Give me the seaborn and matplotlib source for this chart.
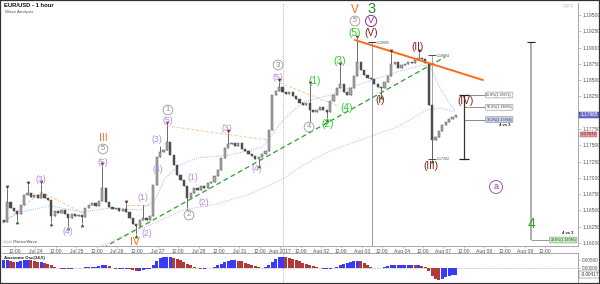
import numpy as np
import pandas as pd
import matplotlib
matplotlib.use("Agg")
import matplotlib.pyplot as plt
import matplotlib.transforms as mtransforms
from matplotlib.ticker import MultipleLocator
from matplotlib.patches import Rectangle
import seaborn as sns

# ---------------- data ----------------
first_open = 1.16353
closes = [
    1.16322, 1.16629, 1.16537, 1.16491, 1.16445, 1.16583, 1.16737, 1.16768, 1.16706, 1.16737,
    1.16691, 1.16752, 1.16691, 1.16660, 1.16414, 1.16491, 1.16461, 1.16507, 1.16445, 1.16384,
    1.16445, 1.16414, 1.16430, 1.16399, 1.16537, 1.16583, 1.16614, 1.16568, 1.16645, 1.16844,
    1.16629, 1.16553, 1.16522, 1.16537, 1.16491, 1.16522, 1.16476, 1.16384, 1.16292, 1.16261,
    1.16353, 1.16384, 1.16353, 1.16414, 1.16891, 1.17320, 1.17397, 1.17428, 1.17550, 1.17351,
    1.17197, 1.17044, 1.16967, 1.16875, 1.16691, 1.16768, 1.16844, 1.16814, 1.16875, 1.16844,
    1.16921, 1.16936, 1.17028, 1.17121, 1.17305, 1.17458, 1.17520, 1.17535, 1.17489, 1.17535,
    1.17443, 1.17412, 1.17366, 1.17335, 1.17289, 1.17320, 1.17366, 1.17412, 1.17735, 1.18272,
    1.18334, 1.18395, 1.18318, 1.18288, 1.18318, 1.18257, 1.18211, 1.18149, 1.18119, 1.18149,
    1.18042, 1.18011, 1.18042, 1.18088, 1.18042, 1.18011, 1.18180, 1.18272, 1.18380, 1.18441,
    1.18318, 1.18272, 1.18380, 1.18564, 1.18779, 1.18656, 1.18579, 1.18533, 1.18518, 1.18441,
    1.18395, 1.18380, 1.18472, 1.18564, 1.18748, 1.18779, 1.18686, 1.18733, 1.18748, 1.18779,
    1.18763, 1.18809, 1.18840, 1.18825, 1.18763, 1.18119, 1.17581, 1.17627, 1.17719, 1.17811,
    1.17858, 1.17904, 1.17934, 1.17965,
]
spike_highs = {1: 1.16829, 7: 1.16891, 11: 1.16906, 29: 1.17182, 36: 1.16599, 41: 1.16583,
               46: 1.17489, 48: 1.17811, 66: 1.17689, 81: 1.18472, 90: 1.18426, 99: 1.18717,
               104: 1.19132, 114: 1.18917, 122: 1.18917}
spike_lows = {4: 1.16353, 14: 1.16322, 19: 1.16261, 23: 1.16307, 39: 1.16138, 54: 1.16537,
              75: 1.17213, 90: 1.17827, 95: 1.17919, 111: 1.18272, 126: 1.17289}
top_markers = [1, 7, 11, 29, 36, 48, 66, 81, 90, 99, 104, 114, 122]
bottom_markers = [4, 14, 19, 23, 39, 54, 75, 90, 95, 111, 126]

ao_values = [
    0.0050, 0.0050, 0.0044, 0.0038, 0.0038, 0.0044, 0.0050, 0.0053, 0.0050, 0.0044,
    0.0038, 0.0038, 0.0031, 0.0025, 0.0016, 0.0006, 0.0000, -0.0006, -0.0006, -0.0009,
    -0.0006, -0.0003, 0.0001, 0.0003, 0.0006, 0.0006, 0.0006, 0.0009, 0.0013, 0.0019,
    0.0019, 0.0013, 0.0000, -0.0006, -0.0006, -0.0006, -0.0006, -0.0009, -0.0013, -0.0016,
    -0.0016, -0.0013, -0.0009, -0.0006, 0.0019, 0.0044, 0.0063, 0.0069, 0.0069, 0.0069,
    0.0063, 0.0056, 0.0050, 0.0038, 0.0025, 0.0019, 0.0009, 0.0000, -0.0006, -0.0006,
    -0.0003, 0.0001, 0.0009, 0.0019, 0.0028, 0.0038, 0.0047, 0.0050, 0.0050, 0.0047,
    0.0041, 0.0034, 0.0028, 0.0019, 0.0013, 0.0006, 0.0003, 0.0006, 0.0019, 0.0038,
    0.0056, 0.0069, 0.0069, 0.0066, 0.0063, 0.0056, 0.0050, 0.0041, 0.0031, 0.0025,
    0.0019, 0.0013, 0.0006, 0.0000, -0.0006, -0.0006, -0.0006, 0.0000, 0.0009, 0.0019,
    0.0025, 0.0031, 0.0038, 0.0044, 0.0047, 0.0044, 0.0031, 0.0019, 0.0006, 0.0000,
    -0.0003, 0.0000, 0.0006, 0.0013, 0.0019, 0.0019, 0.0019, 0.0019, 0.0019, 0.0019,
    0.0019, 0.0016, 0.0016, 0.0013, 0.0006, -0.0019, -0.0050, -0.0069, -0.0075, -0.0069,
    -0.0056, -0.0050, -0.0044, -0.00417,
]

# moving averages (hour, price)
fast_ma_hours = [0, 10.6, 28.2, 47.6, 63.5, 81.2, 90.0, 95.9, 104.7, 114.7, 134.1, 153.5,
                 165.3, 177.1, 192.9, 212.4, 232.4, 247.6, 251.8, 257.6, 261.8, 266.5]
fast_ma_prices = [1.16322, 1.16476, 1.16568, 1.16476, 1.16537, 1.16507, 1.16660, 1.16998,
                  1.17197, 1.17305, 1.17351, 1.17474, 1.17888, 1.18164, 1.18272, 1.18456,
                  1.18625, 1.18732, 1.18702, 1.18380, 1.18195, 1.18026]
slow_ma_hours = [55.9, 67.6, 87.1, 106.5, 126.5, 145.9, 165.3, 175.3, 192.9, 207.6, 232.4,
                 250.0, 257.6, 266.5]
slow_ma_prices = [1.15923, 1.16061, 1.16276, 1.16507, 1.16599, 1.16752, 1.16982, 1.17167,
                  1.17412, 1.17550, 1.17781, 1.18042, 1.18072, 1.18011]

tick_labels = ["12:00", "Jul 24", "12:00", "Jul 25", "12:00", "Jul 26", "12:00", "Jul 27",
               "12:00", "Jul 28", "12:00", "Jul 31", "12:00", "Aug 2017", "12:00", "Aug 02",
               "12:00", "Aug 03", "12:00", "Aug 04", "12:00", "Aug 07", "12:00", "Aug 08",
               "12:00", "Aug 09", "12:00"]
price_ticks = [1.16000, 1.16250, 1.16500, 1.16750, 1.17000, 1.17250, 1.17500, 1.17750,
               1.18250, 1.18500, 1.18750, 1.19000, 1.19250, 1.19500]

# trend / tool lines (hour, price) pairs
orange_line = ([207.6, 282.9], [1.19116, 1.18502])
green_channel = ([59.4, 260.6], [1.15923, 1.18855])
peach_lines = [([0.0, 22.9], [1.16292, 1.16783]), ([22.9, 47.6], [1.16783, 1.16461]),
               ([73.5, 88.8], [1.16583, 1.16583]), ([97.1, 156.5], [1.17796, 1.17581]),
               ([163.5, 197.6], [1.18456, 1.18103])]
fib_high, fib_low = 1.18884, 1.17282
fib_names = ["61.8%", "50.0%", "38.2%"]
fib_prices = [1.18272, 1.18083, 1.17894]
target_top, target_bottom = 1.19085, 1.16046
bid_label_price = 1.17672

# wave labels: (hour, price, text, style)
wave_labels = [
    (22.9, 1.16982, "(3)", "purple"), (38.8, 1.16184, "(4)", "purple"),
    (59.4, 1.17612, "III", "orange_s"), (59.4, 1.17443, "5", "gcircle"),
    (59.4, 1.17243, "(5)", "purple"), (82.9, 1.16706, "(1)", "purple"),
    (85.3, 1.16153, "(2)", "purple"), (78.2, 1.16015, "IV", "orange_s"),
    (91.2, 1.17596, "(3)", "purple"), (91.8, 1.17121, "(4)", "purple"),
    (97.6, 1.17873, "(5)", "purple"), (97.6, 1.18042, "1", "gcircle"),
    (110.0, 1.16430, "2", "gcircle"), (112.4, 1.17013, "(1)", "purple"),
    (118.8, 1.16629, "(2)", "purple"), (132.4, 1.17750, "(3)", "purple"),
    (150.0, 1.17136, "(4)", "purple"), (162.4, 1.18732, "3", "gcircle"),
    (162.4, 1.18548, "(5)", "purple"), (180.6, 1.17781, "4", "gcircle"),
    (184.1, 1.18487, "(1)", "green"), (191.8, 1.17827, "(2)", "green"),
    (198.8, 1.18794, "(3)", "green"), (202.9, 1.18072, "(4)", "green"),
    (207.6, 1.19223, "(5)", "green"), (207.6, 1.19408, "5", "gcircle"),
    (207.6, 1.19577, "V", "orange_l"), (217.1, 1.19592, "3", "dkgreen"),
    (217.1, 1.19408, "V", "pcircle"), (217.1, 1.19223, "(V)", "brown"),
    (222.4, 1.18195, "(I)", "brown"), (244.7, 1.19009, "(II)", "brown"),
    (252.4, 1.17182, "(III)", "brown"), (272.4, 1.18180, "(IV)", "brown"),
    (290.6, 1.16860, "a", "acircle"), (311.2, 1.16292, "4", "green4"),
]

# ---------------- styling ----------------
sns.set_theme(style="white")
plt.rcParams['font.family'] = ['Liberation Sans', 'DejaVu Sans']

W, H = 600, 284
PX_PER_H = 1.7
XMAX = 576 / PX_PER_H

fig = plt.figure(figsize=(W / 100, H / 100), dpi=100)
ax = fig.add_axes([2 / W, (H - 246) / H, 576 / W, 243 / H])
ax2 = fig.add_axes([2 / W, 1 / H, 576 / W, 30 / H])
for a in (ax, ax2):
    a.set_facecolor("white")
    a.set_xlim(0, XMAX)
    for s in ("top", "left"):
        a.spines[s].set_visible(False)
    for s in ("right", "bottom"):
        a.spines[s].set_color("#9a9a9a")
        a.spines[s].set_linewidth(0.6)
ax2.spines["top"].set_visible(True)
ax2.spines["top"].set_color("#9a9a9a")
ax2.spines["top"].set_linewidth(0.6)
ax.set_ylim(1.15954, 1.19684)
ax2.set_ylim(-0.0094, 0.0094)

# ---------------- candles ----------------
n = len(closes)
hours = 2 * np.arange(n) + 1.0
opens = np.array([first_open] + closes[:-1])
cl = np.array(closes)
highs = np.maximum(opens, cl)
lows = np.minimum(opens, cl)
for k, v in spike_highs.items():
    highs[k] = max(highs[k], v)
for k, v in spike_lows.items():
    lows[k] = min(lows[k], v)
df = pd.DataFrame({"hour": hours, "open": opens, "close": cl, "high": highs, "low": lows})
up = df["close"] >= df["open"]

ax.vlines(df["hour"], df["low"], df["high"], color="#555555", lw=0.6, zorder=3)
body_h = np.maximum((df["close"] - df["open"]).abs(), 0.00004)
body_b = np.minimum(df["open"], df["close"])
ax.bar(df["hour"][up], body_h[up], bottom=body_b[up], width=1.25, color="#a9a9a9",
       edgecolor="#5a5a5a", linewidth=0.35, zorder=4)
ax.bar(df["hour"][~up], body_h[~up], bottom=body_b[~up], width=1.25, color="#4e4e4e",
       edgecolor="#4e4e4e", linewidth=0.35, zorder=4)

# pivot markers
top_tr = mtransforms.offset_copy(ax.transData, fig=fig, y=1.6, units="points")
bot_tr = mtransforms.offset_copy(ax.transData, fig=fig, y=-1.6, units="points")
sns.scatterplot(x=df["hour"].iloc[top_markers], y=df["high"].iloc[top_markers], ax=ax,
                marker="v", s=7, color="#7b1e1e", linewidth=0, transform=top_tr, zorder=6)
sns.scatterplot(x=df["hour"].iloc[bottom_markers], y=df["low"].iloc[bottom_markers], ax=ax,
                marker="^", s=7, color="#1f7a1f", linewidth=0, transform=bot_tr, zorder=6)

# ---------------- moving averages and lines ----------------
sns.lineplot(x=fast_ma_hours, y=fast_ma_prices, ax=ax, color="#9bb8f2", lw=0.7,
             linestyle=(0, (1, 1.3)), sort=False, estimator=None, zorder=2)
sns.lineplot(x=slow_ma_hours, y=slow_ma_prices, ax=ax, color="#d9a8e6", lw=0.7,
             linestyle=(0, (1, 1.3)), sort=False, estimator=None, zorder=2)
for xs, ys in peach_lines:
    sns.lineplot(x=xs, y=ys, ax=ax, color="#ffc48f", lw=0.7, linestyle=(0, (3, 2)),
                 sort=False, estimator=None, zorder=2)
sns.lineplot(x=green_channel[0], y=green_channel[1], ax=ax, color="#2e9e2e", lw=0.9,
             linestyle=(0, (4, 2.5)), sort=False, estimator=None, zorder=5)
sns.lineplot(x=orange_line[0], y=orange_line[1], ax=ax, color="#ff6a1a", lw=1.4,
             sort=False, estimator=None, zorder=5)

# month separator
h_aug = (283 - 2) / PX_PER_H
for a in (ax, ax2):
    a.axvline(h_aug, color="#9a9a9a", lw=0.6, ls=(0, (1, 1.5)), zorder=1)

# measurement lines
h_m1 = (372 - 2) / PX_PER_H
ax.vlines(h_m1, ax.get_ylim()[0], target_top, color="#9a9a9a", lw=0.7, zorder=2)
ax.hlines(target_top, h_m1 - 2.5, h_m1 + 2.5, color="#333", lw=0.7, zorder=6)
ax.text(h_m1 + 3, target_top - 0.0002, "1.19085", fontsize=2.6, color="#555", va="center")

h_m2 = (432 - 2) / PX_PER_H
ax.vlines(h_m2, fib_low, fib_high, color="#9a9a9a", lw=0.6, zorder=2)
ax.hlines([fib_high, fib_low], h_m2 - 2.5, h_m2 + 2.5, color="#333", lw=0.6, zorder=6)
ax.text(h_m2 + 3, fib_high - 0.0001, "1.18884", fontsize=2.6, color="#555", va="center")
ax.text(h_m2 + 3, fib_low, "1.17282", fontsize=2.6, color="#555", va="center")

h_fib = (464 - 2) / PX_PER_H
h_fib_end = (485 - 2) / PX_PER_H
ax.vlines(h_fib, fib_low, fib_prices[0], color="#333", lw=0.9, zorder=6)
ax.hlines([fib_prices[0], fib_low], h_fib - 3, h_fib + 3, color="#222", lw=0.9, zorder=6)
ax.hlines(fib_prices, h_fib, h_fib_end, color="#777", lw=0.6, zorder=5)
for nm, fp in zip(fib_names, fib_prices):
    fc = "#c9d1f2" if nm == "38.2%" else "white"
    ax.text(h_fib_end + 0.8, fp, f"{nm}({fp:.5f})", fontsize=2.6, color="#333", va="center",
            ha="left", zorder=7,
            bbox=dict(boxstyle="round,pad=0.25", fc=fc, ec="#888", lw=0.4))
ax.text((505 - 2) / PX_PER_H, 1.17812, "4 vs 3", fontsize=3.0, color="#222",
        weight="bold", ha="center", va="center")

h_t = (531 - 2) / PX_PER_H
h_t_end = (549 - 2) / PX_PER_H
ax.vlines(h_t, target_bottom, target_top, color="#a8a8a8", lw=1.3, zorder=2)
ax.hlines(target_top, h_t - 2.5, h_t + 2.5, color="#222", lw=0.8, zorder=6)
ax.hlines(target_bottom, h_t, h_t_end, color="#888", lw=0.6, zorder=5)
ax.text(h_t_end + 0.8, target_bottom, f"23.6%({target_bottom:.5f})", fontsize=2.6,
        color="#333", va="center", ha="left", zorder=7,
        bbox=dict(boxstyle="round,pad=0.25", fc="#c8eec0", ec="#6aa86a", lw=0.4))
ax.text((568 - 2) / PX_PER_H, 1.16154, "4 vs 3", fontsize=3.0, color="#222",
        weight="bold", ha="center", va="center")

# ---------------- wave labels ----------------
styles = {
    "purple": dict(color="#b38be6", fontsize=6.3),
    "green": dict(color="#2ecc2e", fontsize=7.3),
    "brown": dict(color="#8b1c1c", fontsize=7.3),
    "orange_s": dict(color="#ff6a1a", fontsize=7.5),
    "orange_l": dict(color="#ff6a1a", fontsize=8.5),
    "dkgreen": dict(color="#2a8a2a", fontsize=10.5),
    "green4": dict(color="#2e9e2e", fontsize=10),
    "gcircle": dict(color="#8a8a8a", fontsize=5.5,
                    bbox=dict(boxstyle="circle,pad=0.18", fc="white", ec="#9a9a9a", lw=0.6)),
    "pcircle": dict(color="#8a2b9e", fontsize=6.5,
                    bbox=dict(boxstyle="circle,pad=0.12", fc="white", ec="#8a2b9e", lw=0.7)),
    "acircle": dict(color="#a33aa8", fontsize=6.5,
                    bbox=dict(boxstyle="circle,pad=0.22", fc="white", ec="#a33aa8", lw=0.6)),
}
for hx, py, txt, st in wave_labels:
    ax.text(hx, py, txt, ha="center", va="center", zorder=8, **styles[st])

# ---------------- axes ticks ----------------
tick_pos = [13 / PX_PER_H + 12 * i for i in range(len(tick_labels))]
ax.set_xticks(tick_pos)
ax.set_xticklabels(tick_labels)
ax.tick_params(axis="x", labelsize=3.6, pad=0.8, length=1.5, width=0.4, colors="#9a9a9a",
               labelcolor="#555", direction="out", bottom=True)
ax.yaxis.tick_right()
ax.set_yticks(price_ticks)
ax.set_yticklabels([f"{t:.5f}" for t in price_ticks])
ax.yaxis.set_minor_locator(MultipleLocator(0.0005))
ax.tick_params(axis="y", which="major", labelsize=3.6, pad=1.2, length=1.8, width=0.4,
               colors="#9a9a9a", labelcolor="#555", right=True)
ax.tick_params(axis="y", which="minor", length=1.0, width=0.3, colors="#9a9a9a", right=True)
ax.set_xlabel("")
ax.set_ylabel("")

# price boxes on right axis
ytr = ax.get_yaxis_transform()
ax.text(1.004, cl[-1], f"{cl[-1]:.5f}", transform=ytr, fontsize=3.4, color="white",
        va="center", ha="left", clip_on=False, zorder=9,
        bbox=dict(boxstyle="square,pad=0.2", fc="#6f6fd6", ec="#333", lw=0.3))
ax.text(1.004, bid_label_price, f"{bid_label_price:.5f}", transform=ytr, fontsize=3.2,
        color="#5a1a1a", va="center", ha="left", clip_on=False, zorder=9,
        bbox=dict(boxstyle="square,pad=0.12", fc="#e29a9a", ec="#a55", lw=0.3))

# ---------------- oscillator ----------------
ao = np.array(ao_values)
diffs = np.diff(np.concatenate([[ao[0]], ao]))
colors = np.where(diffs >= 0, "#3b3bf5", "#b03a3a")
ax2.bar(hours, ao, width=1.8, color=colors, linewidth=0, zorder=3)
ax2.axhline(0, color="#9a9a9a", lw=0.5, ls=(0, (1, 1.2)), zorder=2)
ax2.set_xticks([])
ax2.yaxis.tick_right()
ax2.set_yticks([0.0, 0.005])
ax2.set_yticklabels(["0.00000", "0.00500"])
ax2.tick_params(axis="y", labelsize=3.4, pad=1.2, length=1.5, width=0.4, colors="#9a9a9a",
                labelcolor="#555", right=True)
ax2.text(1.004, ao[-1], f"{ao[-1]:.5f}", transform=ax2.get_yaxis_transform(), fontsize=3.4,
         color="#333", va="center", ha="left", clip_on=False, zorder=9,
         bbox=dict(boxstyle="square,pad=0.2", fc="white", ec="#555", lw=0.3))
ax2.text(0.003, 0.82, "Awesome Osc(34,5)", transform=ax2.transAxes, fontsize=3.2,
         weight="bold", color="#222", va="center", ha="left", zorder=9)

# ---------------- header / decorations ----------------
fig.text(4 / W, 1 - 5.5 / H, "EUR/USD - 1 hour", fontsize=4.2, weight="bold", color="#111",
         va="center", ha="left")
fig.text(5 / W, 1 - 12 / H, "Wave Analysis", fontsize=3.2, color="#555", va="center", ha="left")
fig.text(563 / W, 1 - 5 / H, "\u25c7\u25c7\u25c7", fontsize=3.5, color="#888", va="center",
         ha="left", family=["DejaVu Sans"])
ax.text(0.002, 0.012, "\u25c7\u25c7\u25c7 MotiveWave", transform=ax.transAxes, fontsize=2.8,
        color="#444", va="bottom", ha="left", family=["DejaVu Sans"])
fig.patches.append(Rectangle((0, 0), 1, 1, transform=fig.transFigure, fill=False,
                             ec="#333", lw=1.6, zorder=20))

fig.savefig("out.png", dpi=100)
